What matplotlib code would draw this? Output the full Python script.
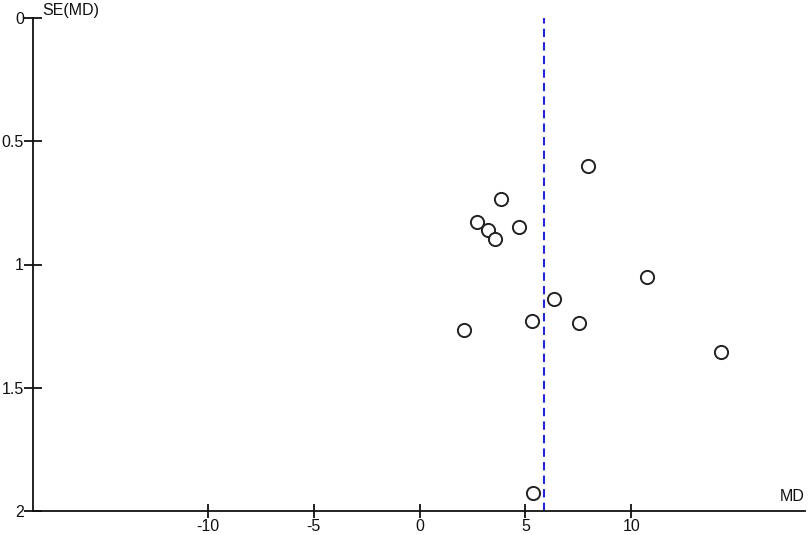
import matplotlib
matplotlib.use("Agg")
import matplotlib.pyplot as plt

plt.rcParams['font.family'] = ['Liberation Sans', 'DejaVu Sans']

# mean difference and its standard error for each study
md = [7.97, 3.87, 2.69, 3.25, 3.54, 4.72, 10.75, 6.37, 5.33, 7.55, 2.08, 14.25, 5.38]
se = [0.602, 0.736, 0.826, 0.862, 0.897, 0.846, 1.052, 1.141, 1.228, 1.237, 1.267, 1.353, 1.927]
pooled_md = 5.9

x_ticks = [-10, -5, 0, 5, 10]
y_ticks = [0, 0.5, 1, 1.5, 2]
y_ticklabels = ['0', '0.5', '1', '1.5', '2']

fig = plt.figure(figsize=(8.09, 5.35), dpi=100)
ax = fig.add_axes([33 / 809, 1 - 511 / 535, 772 / 809, 493 / 535])

ax.axvline(pooled_md, color='#2424d8', lw=1.5, ls=(0, (4, 2.5)), zorder=1)
ax.plot(md, se, 'o', ms=9.5, mfc='white', mec='#222222', mew=1.4, zorder=3)

ax.set_xlim(-18.25, 18.2)
ax.set_ylim(2, 0)
ax.set_xticks(x_ticks)
ax.set_xticklabels([str(t) for t in x_ticks])
ax.set_yticks(y_ticks)
ax.set_yticklabels(y_ticklabels)

for s in ['top', 'right']:
    ax.spines[s].set_visible(False)
for s in ['left', 'bottom']:
    ax.spines[s].set_linewidth(1.3)
    ax.spines[s].set_color('#111111')

ax.tick_params(axis='both', direction='inout', length=10, width=1.3, labelsize=11.5,
               colors='#111111', pad=1)
ax.tick_params(axis='y', length=13, pad=0)

ax.text(0.012, 1.0, 'SE(MD)', transform=ax.transAxes, fontsize=11.5,
        ha='left', va='bottom', color='#111111')
ax.text(1.0, 0.015, 'MD', transform=ax.transAxes, fontsize=11.5,
        ha='right', va='bottom', color='#111111')

fig.savefig('out.png', dpi=100)
